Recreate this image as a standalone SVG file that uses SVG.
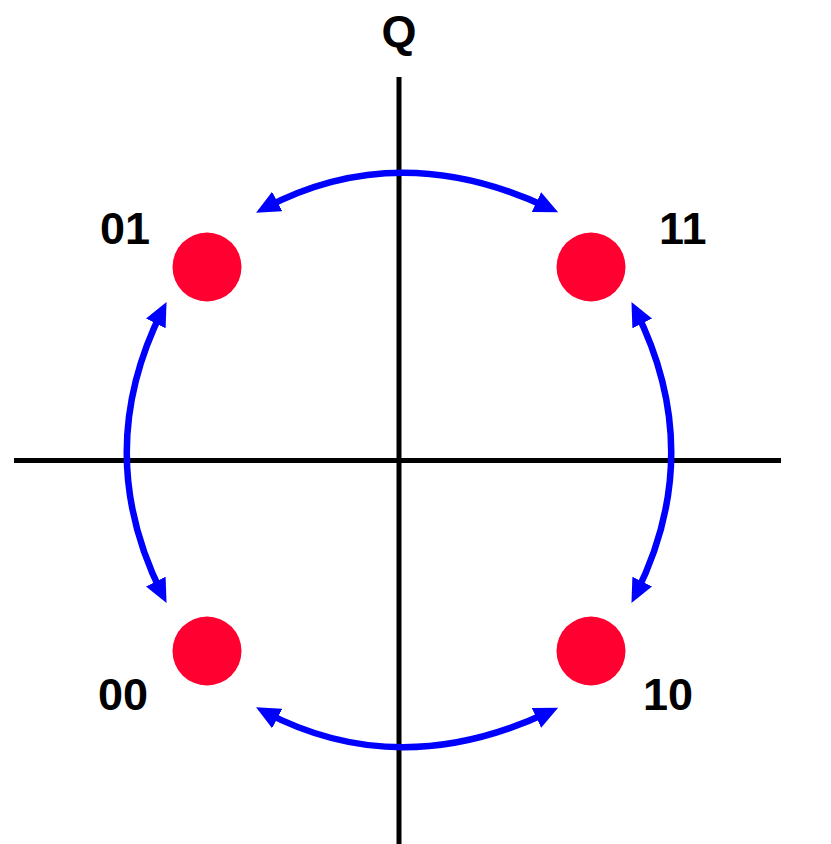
<svg xmlns="http://www.w3.org/2000/svg" width="831" height="844" viewBox="0 0 831 844">
<style>
.lbl{font-family:"Liberation Sans",Arial,sans-serif;font-weight:bold;font-size:45px;fill:#000}
.axis{stroke:#000;stroke-width:5;fill:none}
.arc{stroke:#0000FF;stroke-width:6.5;fill:none;marker-start:url(#ah);marker-end:url(#ah)}
.pt{fill:#FF0030}
</style>
<defs>
<marker id="ah" viewBox="0 0 24 22" refX="15" refY="11" markerWidth="24" markerHeight="22" markerUnits="userSpaceOnUse" orient="auto-start-reverse">
<path d="M0,0 L24,11 L0,22 z" fill="#0000FF"/>
</marker>
</defs>
<rect width="831" height="844" fill="#fff"/>
<g id="axes">
<line class="axis" x1="399" y1="77" x2="399" y2="844"/>
<line class="axis" x1="14" y1="460.5" x2="781" y2="460.5"/>
<text class="lbl" x="399" y="47" text-anchor="middle" font-size="44">Q</text>
</g>
<g id="connectors">
<path class="arc" d="M264,208.5 Q399,137 550,208.5"/>
<path class="arc" d="M162.5,310 Q91,452.5 162.5,595"/>
<path class="arc" d="M635.5,310 Q707,452.5 635.5,595"/>
<path class="arc" d="M264,711.5 Q399,783 550,711.5"/>
</g>
<g id="n01"><circle class="pt" cx="207" cy="267" r="34.5"/><text class="lbl" x="100" y="244">01</text></g>
<g id="n11"><circle class="pt" cx="591" cy="267" r="34.5"/><text class="lbl" x="659" y="244">11</text></g>
<g id="n00"><circle class="pt" cx="207" cy="651" r="34.5"/><text class="lbl" x="98" y="710">00</text></g>
<g id="n10"><circle class="pt" cx="591" cy="651" r="34.5"/><text class="lbl" x="643" y="710">10</text></g>
</svg>
